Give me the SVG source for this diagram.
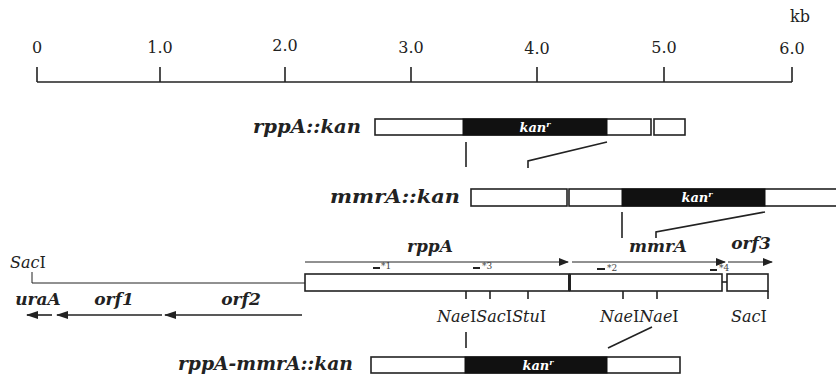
<svg xmlns="http://www.w3.org/2000/svg" width="836" height="375" viewBox="0 0 836 375">
<defs>
<style>
text{font-family:"DejaVu Serif","Liberation Serif",serif}
.t{fill:#222}
.sc{font-size:16px}
.g{font-size:17px;font-weight:bold;font-style:italic}
.c{font-size:19px;font-weight:bold;font-style:italic}
.r{font-size:16px}
.i{font-style:italic}
.kan{font-size:13px;font-weight:bold;font-style:italic;fill:#fff}
.p{font-size:9px;fill:#444}
.ln{stroke:#222;stroke-width:1.6;fill:none}
.thin{stroke:#222;stroke-width:1;fill:none}
.box{fill:#fff;stroke:#222;stroke-width:1.6}
.blk{fill:#111;stroke:#111;stroke-width:1}
</style>
<marker id="ah" viewBox="0 0 10 8" refX="9" refY="4" markerWidth="10" markerHeight="8" markerUnits="userSpaceOnUse" orient="auto">
<path d="M0,0 L10,4 L0,8 Z" fill="#222"/>
</marker>
<marker id="ahb" viewBox="0 0 12 8" refX="11" refY="4" markerWidth="12" markerHeight="8" markerUnits="userSpaceOnUse" orient="auto">
<path d="M0,0 L12,4 L0,8 Z" fill="#222"/>
</marker>
</defs>

<g id="scale">
<line class="ln" x1="37" y1="82" x2="792" y2="82"/>
<line class="ln" x1="37" y1="67" x2="37" y2="82"/>
<line class="ln" x1="160" y1="67" x2="160" y2="82"/>
<line class="ln" x1="285" y1="67" x2="285" y2="82"/>
<line class="ln" x1="411" y1="67" x2="411" y2="82"/>
<line class="ln" x1="537" y1="67" x2="537" y2="82"/>
<line class="ln" x1="664" y1="67" x2="664" y2="82"/>
<line class="ln" x1="792" y1="67" x2="792" y2="82"/>
<text class="t sc" x="37" y="53" text-anchor="middle">0</text>
<text class="t sc" x="160" y="53" text-anchor="middle">1.0</text>
<text class="t sc" x="285" y="51" text-anchor="middle">2.0</text>
<text class="t sc" x="411" y="53" text-anchor="middle">3.0</text>
<text class="t sc" x="537" y="54" text-anchor="middle">4.0</text>
<text class="t sc" x="664" y="53" text-anchor="middle">5.0</text>
<text class="t sc" x="792" y="54" text-anchor="middle">6.0</text>
<text class="t sc" x="800" y="22" text-anchor="middle">kb</text>
</g>

<g id="rppA-kan">
<text class="t c" x="253" y="133" textLength="108" lengthAdjust="spacingAndGlyphs">rppA::kan</text>
<rect class="box" x="375" y="119" width="276" height="16"/>
<rect class="blk" x="463" y="119" width="144" height="16"/>
<rect class="box" x="654" y="119" width="31" height="16"/>
<text class="kan" x="535" y="132" text-anchor="middle">kan<tspan font-size="8" dy="-5">r</tspan></text>
</g>

<g id="mmrA-kan">
<text class="t c" x="330" y="203" textLength="130" lengthAdjust="spacingAndGlyphs">mmrA::kan</text>
<rect class="box" x="471" y="189" width="96" height="17"/>
<rect class="box" x="569" y="189" width="270" height="17"/>
<rect class="blk" x="622" y="189" width="143" height="17"/>
<text class="kan" x="697" y="202" text-anchor="middle">kan<tspan font-size="8" dy="-5">r</tspan></text>
</g>

<g id="genemap">
<text class="t r" x="10" y="268"><tspan class="i">Sac</tspan>I</text>
<rect class="box" x="305" y="274" width="264" height="17"/>
<rect class="box" x="570" y="274" width="152" height="17"/>
<line x1="569.5" y1="274" x2="569.5" y2="291" stroke="#222" stroke-width="3"/>
<rect class="box" x="727" y="274" width="41" height="17"/>
<line class="ln" x1="722" y1="282" x2="727" y2="282"/>
<line class="ln" x1="466" y1="291" x2="466" y2="299"/>
<line class="ln" x1="490" y1="291" x2="490" y2="299"/>
<line class="ln" x1="528" y1="291" x2="528" y2="299"/>
<line class="ln" x1="623" y1="291" x2="623" y2="299"/>
<line class="ln" x1="657" y1="291" x2="657" y2="299"/>
<line class="ln" x1="768" y1="291" x2="768" y2="299"/>
<text class="t r" x="437" y="322"><tspan class="i">Nae</tspan>I<tspan class="i">Sac</tspan>I<tspan class="i">Stu</tspan>I</text>
<text class="t r" x="600" y="322"><tspan class="i">Nae</tspan>I<tspan class="i">Nae</tspan>I</text>
<text class="t r" x="731" y="322"><tspan class="i">Sac</tspan>I</text>
</g>

<g id="rppA">
<text class="t g" x="430" y="252" text-anchor="middle">rppA</text>
</g>
<g id="mmrA">
<text class="t g" x="658" y="252" text-anchor="middle">mmrA</text>
</g>
<g id="orf3">
<text class="t g" x="751" y="249" text-anchor="middle">orf3</text>
</g>
<g id="uraA">
<text class="t g" x="38" y="305" text-anchor="middle">uraA</text>
</g>
<g id="orf1">
<text class="t g" x="114" y="305" text-anchor="middle">orf1</text>
</g>
<g id="orf2">
<text class="t g" x="241" y="305" text-anchor="middle">orf2</text>
</g>

<g id="primers">
<line x1="373" y1="268" x2="380" y2="268" stroke="#222" stroke-width="2"/>
<text class="p" x="381" y="269">*1</text>
<line x1="473" y1="268" x2="480" y2="268" stroke="#222" stroke-width="2"/>
<text class="p" x="482" y="269">*3</text>
<line x1="597" y1="269" x2="605" y2="269" stroke="#222" stroke-width="2"/>
<text class="p" x="607" y="271">*2</text>
<line x1="710" y1="270" x2="717" y2="270" stroke="#222" stroke-width="2"/>
<text class="p" x="719" y="271">*4</text>
</g>

<g id="rppA-mmrA-kan">
<text class="t c" x="178" y="370" textLength="175" lengthAdjust="spacingAndGlyphs">rppA-mmrA::kan</text>
<rect class="box" x="371" y="357" width="309" height="16"/>
<rect class="blk" x="465" y="357" width="142" height="16"/>
<text class="kan" x="538" y="370" text-anchor="middle">kan<tspan font-size="8" dy="-5">r</tspan></text>
</g>

<g id="connectors">
<polyline class="thin" points="32,272 32,283 305,283"/>
<line class="thin" x1="305" y1="262" x2="568" y2="262" marker-end="url(#ah)"/>
<line class="thin" x1="572" y1="262" x2="725" y2="262" marker-end="url(#ah)"/>
<line class="thin" x1="728" y1="262" x2="772" y2="262" marker-end="url(#ah)"/>
<line class="ln" x1="52" y1="315" x2="27" y2="315" marker-end="url(#ahb)"/>
<line class="ln" x1="162" y1="315" x2="57" y2="315" marker-end="url(#ahb)"/>
<line class="ln" x1="302" y1="315" x2="165" y2="315" marker-end="url(#ahb)"/>
<line class="ln" x1="466" y1="142" x2="466" y2="167"/>
<polyline class="ln" points="607,142 528,161 528,168"/>
<line class="ln" x1="622" y1="212" x2="622" y2="238"/>
<polyline class="ln" points="765,212 656,232 656,238"/>
<line class="ln" x1="466" y1="332" x2="466" y2="348"/>
<line class="ln" x1="652" y1="327" x2="608" y2="348"/>
</g>
</svg>
